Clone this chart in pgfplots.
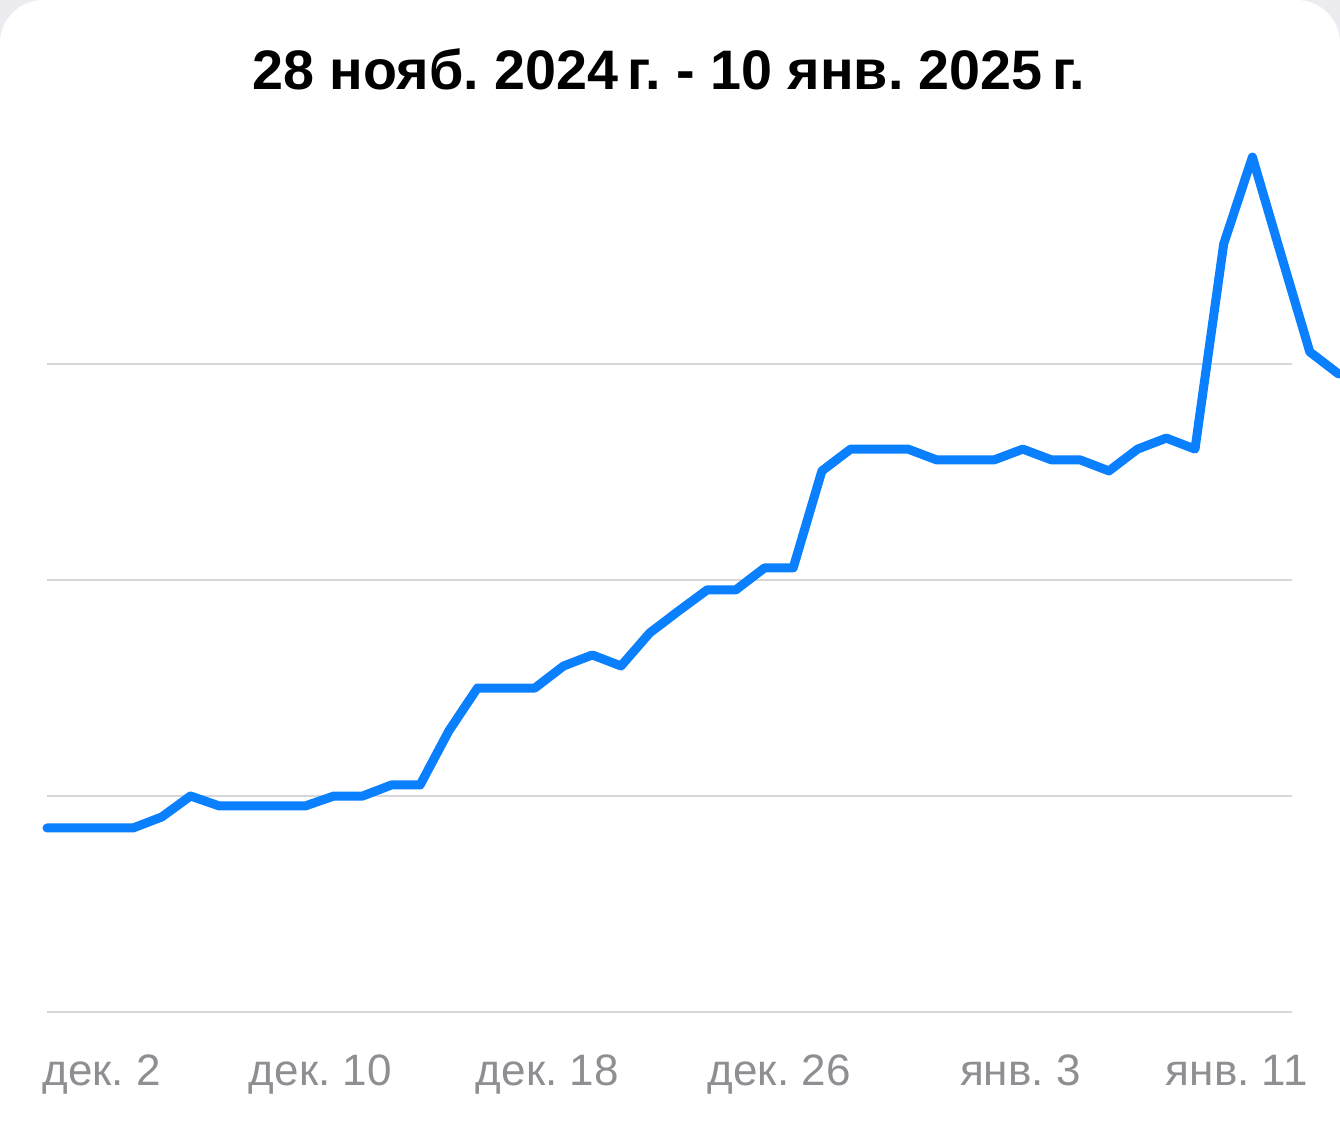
\documentclass[border=0pt]{standalone}
\usepackage{fontspec}
\setmainfont{Liberation Sans}
\usepackage{pgfplots}
\pgfplotsset{compat=1.18}
\definecolor{iosblue}{RGB}{10,128,255}
\definecolor{gridgray}{RGB}{214,214,218}
\definecolor{labelgray}{RGB}{142,142,147}
\definecolor{cardbg}{RGB}{236,236,240}

% 1 px of the reference = 0.3pt; axis origin = left end of lowest grid line
\begin{document}
\frenchspacing
\begin{tikzpicture}
\fill[cardbg] (-14.1pt,-34.2pt) rectangle (387.9pt,303.6pt);
\fill[white, rounded corners=13pt] (-14.1pt,-80pt) rectangle (387.9pt,303.6pt);
\begin{axis}[
    scale only axis,
    width=373.5pt, height=259.2pt,
    xmin=0, xmax=43.38,
    ymin=0, ymax=40,
    clip=false,
    axis line style={draw=none},
    major tick length=0pt,
    ytick={0,10,20,30},
    yticklabels={},
    ymajorgrids,
    grid style={gridgray, line width=0.6pt},
    % labels sit one day left of their right edge, shifted back by one day
    xtick={2.87,10.92,18.83,26.91,34.92,42.83},
    xticklabels={дек. 2, дек. 10, дек. 18, дек. 26, янв. 3, янв. 11},
    xticklabel style={anchor=base east, inner sep=0pt, yshift=-21.9pt,
        xshift=9.6pt, font=\fontsize{13.2}{15}\selectfont, text=labelgray},
]
\addplot[iosblue, line width=2.7pt, line join=round, line cap=round] coordinates {
(0,8.52) (1,8.52) (2,8.52) (3,8.52) (4,9.03) (5,10.0) (6,9.54) (7,9.54)
(8,9.54) (9,9.54) (10,10.0) (11,10.0) (12,10.51) (13,10.51) (14,13.01)
(15,15.0) (16,15.0) (17,15.0) (18,16.02) (19,16.53) (20,16.02) (21,17.55)
(22,18.56) (23,19.54) (24,19.54) (25,20.56) (26,20.56) (27,25.05)
(28,26.06) (29,26.06) (30,26.06) (31,25.56) (32,25.56) (33,25.56)
(34,26.06) (35,25.56) (36,25.56) (37,25.05) (38,26.06) (39,26.57)
(40,26.06) (41,35.56) (42,39.58) (43,35.05) (44,30.56) (45,29.54)
};
\node[anchor=base, font=\fontsize{16.7}{20}\selectfont\bfseries]
    at (axis cs:21.67,42.69) {28 нояб. 2024\,г. - 10 янв. 2025\,г.};
\end{axis}
\pgfresetboundingbox
\useasboundingbox (-14.1pt,-34.2pt) rectangle (387.9pt,303.6pt);
\end{tikzpicture}
\end{document}
